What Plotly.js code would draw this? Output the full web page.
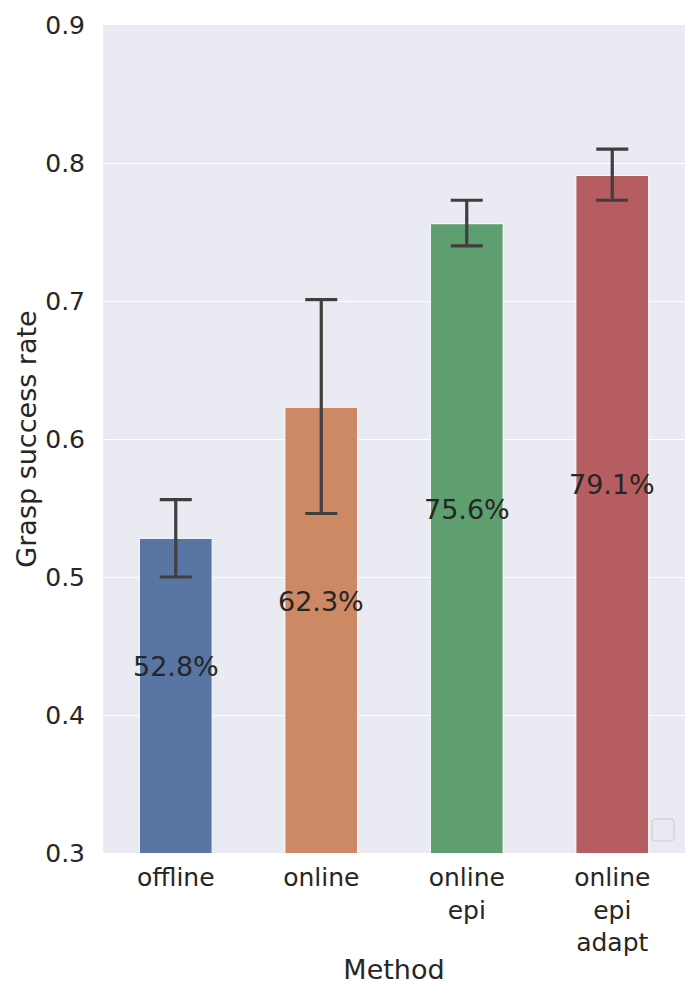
<!DOCTYPE html>
<html>
<head>
<meta charset="utf-8">
<script src="https://cdn.plot.ly/plotly-3.0.1.min.js"></script>
<style>
  body { margin: 0; background: #fff; }
  #chart { width: 700px; height: 1000px; }
</style>
</head>
<body>
<div id="chart"></div>
<script>
// data
var methods = ['offline', 'online', 'online<br>epi', 'online<br>epi<br>adapt'];
var successRate = [0.528, 0.623, 0.756, 0.791];
var errUpper = [0.556, 0.701, 0.773, 0.810];
var errLower = [0.500, 0.546, 0.740, 0.773];
var labelY = [0.435, 0.482, 0.549, 0.567];
var barColors = ['#5975a4', '#cc8963', '#5f9e6e', '#b55d60'];

var plus = successRate.map((v, i) => errUpper[i] - v);
var minus = successRate.map((v, i) => v - errLower[i]);

var trace = {
  x: methods,
  y: successRate,
  type: 'bar',
  marker: { color: barColors, line: { color: '#ffffff', width: 1 } },
  error_y: {
    type: 'data', symmetric: false, array: plus, arrayminus: minus,
    color: '#3f3f3f', thickness: 3.2, width: 16
  },
  hoverinfo: 'none',
  showlegend: false
};

var labels = successRate.map((v, i) => ({
  x: methods[i], y: labelY[i], xref: 'x', yref: 'y',
  text: (v * 100).toFixed(1) + '%', showarrow: false,
  font: { family: 'DejaVu Sans', size: 27, color: '#262626' }
}));

// empty legend box, bottom right (rounded square)
var bx0 = 0.9433, bx1 = 0.9811, by0 = 0.0145, by1 = 0.0411, rx = 0.0069, ry = 0.0048;
var boxPath = 'M ' + (bx0 + rx) + ',' + by0 + ' L ' + (bx1 - rx) + ',' + by0 +
  ' Q ' + bx1 + ',' + by0 + ' ' + bx1 + ',' + (by0 + ry) +
  ' L ' + bx1 + ',' + (by1 - ry) + ' Q ' + bx1 + ',' + by1 + ' ' + (bx1 - rx) + ',' + by1 +
  ' L ' + (bx0 + rx) + ',' + by1 + ' Q ' + bx0 + ',' + by1 + ' ' + bx0 + ',' + (by1 - ry) +
  ' L ' + bx0 + ',' + (by0 + ry) + ' Q ' + bx0 + ',' + by0 + ' ' + (bx0 + rx) + ',' + by0 + ' Z';

var layout = {
  width: 700, height: 1000,
  margin: { l: 103, r: 15, t: 25, b: 147 },
  paper_bgcolor: '#ffffff',
  plot_bgcolor: '#eaeaf2',
  bargap: 0.5,
  font: { family: 'DejaVu Sans', color: '#262626' },
  xaxis: {
    showgrid: false, zeroline: false, ticks: 'outside', ticklen: 2, tickcolor: 'rgba(0,0,0,0)',
    tickfont: { size: 25 },
    title: { text: 'Method', font: { size: 27 }, standoff: 4 }
  },
  yaxis: {
    range: [0.3, 0.9], dtick: 0.1, tickformat: '.1f',
    gridcolor: '#ffffff', gridwidth: 1.3, zeroline: false,
    ticks: 'outside', ticklen: 12, tickcolor: 'rgba(0,0,0,0)',
    tickfont: { size: 25 },
    title: { text: 'Grasp success rate', font: { size: 27 }, standoff: 0 }
  },
  annotations: labels,
  shapes: [{
    type: 'path', xref: 'paper', yref: 'paper', path: boxPath,
    fillcolor: 'rgba(234,234,242,0.8)', line: { color: '#cfcfd6', width: 1.2 }
  }]
};

Plotly.newPlot('chart', [trace], layout, { displayModeBar: false, showLink: false });
</script>
</body>
</html>
